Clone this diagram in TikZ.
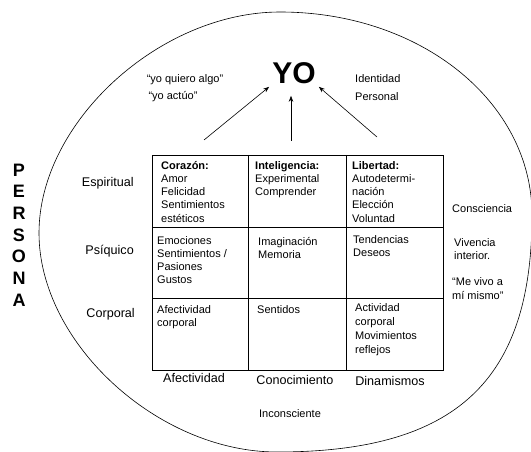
\documentclass[tikz,border=0pt]{standalone}
\usepackage{fontspec}
\setmainfont{Liberation Sans}
\usetikzlibrary{arrows.meta}
\begin{document}
\begin{tikzpicture}[x=1pt, y=-1pt, >={Stealth[length=6pt,width=4.5pt]},
        txt/.style={font=\fontsize{11}{13.3}\selectfont, inner sep=0pt, align=left},
        axis/.style={font=\fontsize{12.6}{15}\selectfont, inner sep=0pt},
    ]
        \useasboundingbox (0,0) rectangle (531,452);

        % la persona
        \draw[line width=0.6pt] (280,12)
            .. controls (421,12) and (532,102) .. (532,215)
            .. controls (532,381) and (456,452) .. (277,452)
            .. controls (158,452) and (39,343) .. (39,233)
            .. controls (39,122) and (160,12) .. (280,12) -- cycle;
        \node[font=\bfseries\fontsize{18}{21.7}\selectfont, align=center, inner sep=0pt] (persona) at (19,235) {P\\E\\R\\S\\O\\N\\A};

        % yo
        \node[font=\bfseries\fontsize{30}{30}\selectfont, inner sep=3pt] (yo) at (294,73) {YO};
        \node[txt, anchor=base] (quiero) at (185,83) {“yo quiero algo”};
        \node[txt, anchor=base] (actuo) at (173,100) {“yo actúo”};
        \node[txt, anchor=base west, font=\fontsize{11}{17.5}\selectfont] (identidad) at (355,100.5) {Identidad\\Personal};

        \coordinate (tailL) at (204,140);
        \coordinate (tailM) at (291,141);
        \coordinate (tailR) at (377,137);
        \draw[->, line width=0.6pt] (tailL) -- (yo.south west);
        \draw[->, line width=0.6pt, shorten >=9pt] (tailM) -- (tailM |- yo.south);
        \draw[->, line width=0.6pt] (tailR) -- (yo.south east);

        % cuadro
        \draw[line width=0.8pt] (152,155) rectangle (443,370);
        \draw[line width=0.8pt] (248,155) -- (248,370);
        \draw[line width=0.8pt] (346,155) -- (346,370);
        \draw[line width=0.8pt] (152,227) -- (443,227);
        \draw[line width=0.8pt] (152,298) -- (443,298);

        % (base = ultima linea)
        \node[txt, anchor=base west] (corazon) at (161,222.2) {\textbf{Corazón:}\\Amor\\Felicidad\\Sentimientos\\estéticos};
        \node[txt, anchor=base west] (inteligencia) at (255,195.6) {\textbf{Inteligencia:}\\Experimental\\Comprender};
        \node[txt, anchor=base west] (libertad) at (352,222.2) {\textbf{Libertad:}\\Autodetermi-\\nación\\Elección\\Voluntad};
        \node[txt, anchor=base west] (emociones) at (157,283.9) {Emociones\\Sentimientos /\\Pasiones\\Gustos};
        \node[txt, anchor=base west] (imaginacion) at (258,258.3) {Imaginación\\Memoria};
        \node[txt, anchor=base west] (tendencias) at (353,256.3) {Tendencias\\Deseos};
        \node[txt, anchor=base west] (afcorporal) at (157,326.3) {Afectividad\\corporal};
        \node[txt, anchor=base west] (sentidos) at (257,313) {Sentidos};
        \node[txt, anchor=base west, font=\fontsize{11}{14}\selectfont] (actividad) at (355,353) {Actividad\\corporal\\Movimientos\\reflejos};

        % niveles
        \node[axis, anchor=base east] (espiritual) at (134,186) {Espiritual};
        \node[axis, anchor=base east] (psiquico) at (134,254) {Psíquico};
        \node[axis, anchor=base east] (corporal) at (135,317) {Corporal};

        % dimensiones
        \node[axis, anchor=base] (afectividad) at (194,382) {Afectividad};
        \node[axis, anchor=base] (conocimiento) at (295,384) {Conocimiento};
        \node[axis, anchor=base] (dinamismos) at (390,385) {Dinamismos};
        \node[txt, anchor=base] (inconsciente) at (290,417) {Inconsciente};

        % consciencia
        \node[txt, anchor=base west] (consciencia) at (452,212) {Consciencia};
        \node[txt, anchor=base west] (vivencia) at (454,259.3) {Vivencia\\interior.};
        \node[txt, anchor=base west] (mevivo) at (452,299) {“Me vivo a\\mí mismo”};
    \end{tikzpicture}
\end{document}
